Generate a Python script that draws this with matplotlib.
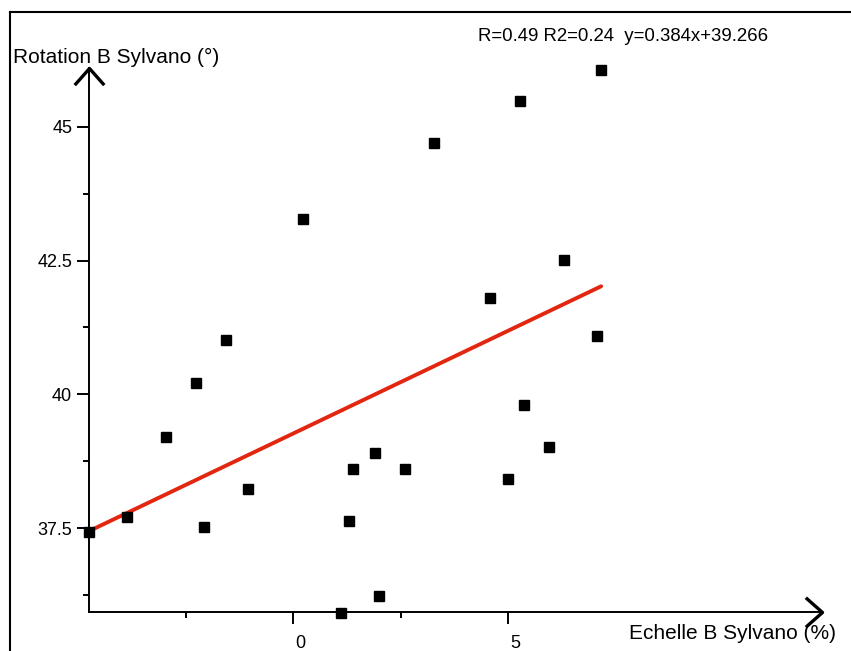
import numpy as np
import matplotlib
matplotlib.use("Agg")
import matplotlib.pyplot as plt
from matplotlib.path import Path
from matplotlib.lines import Line2D
from matplotlib.transforms import ScaledTranslation

plt.rcParams["font.family"] = ["Liberation Sans", "DejaVu Sans"]

# data
echelle = [-4.75, -3.87, -2.96, -2.26, -2.08, -1.57, -1.05, 0.24, 1.11, 1.29, 1.39, 1.90,
           1.99, 2.60, 3.29, 4.58, 5.00, 5.27, 5.37, 5.96, 6.30, 7.07, 7.17]
rotation = [37.42, 37.71, 39.20, 40.21, 37.52, 41.02, 38.23, 43.28, 35.92, 37.64, 38.60, 38.90,
            36.23, 38.60, 44.70, 41.80, 38.42, 45.49, 39.80, 39.01, 42.51, 41.09, 46.07]
slope, intercept = 0.384, 39.266
stats_text = "R=0.49 R2=0.24  y=0.384x+39.266"

x_major = [0, 5]
x_minor = [-2.5, 2.5]
y_major = [37.5, 40, 42.5, 45]
y_minor = [36.25, 38.75, 41.25, 43.75]

W, H = 851, 651
fig = plt.figure(figsize=(W / 100, H / 100), dpi=100)
ax = fig.add_axes([89 / W, 1 - 612 / H, (822 - 89) / W, (612 - 68) / H])

ax.set_xlim(min(echelle), 12.31)
ax.set_ylim(35.93, 46.10)

# scatter + fit line
ax.plot(echelle, rotation, ls="none", marker="s", ms=6.5, color="black", clip_on=False, zorder=3)
xf = np.array([min(echelle), max(echelle)])
ax.plot(xf, slope * xf + intercept, color="#e3260f", lw=2.8, solid_capstyle="round", zorder=2)

# spines
for s in ["top", "right"]:
    ax.spines[s].set_visible(False)
for s in ["left", "bottom"]:
    ax.spines[s].set_linewidth(1.4)

# open chevron arrows at the axis ends
chev_right = Path([(-1.13, 1), (0, 0), (-1.13, -1)], [Path.MOVETO, Path.LINETO, Path.LINETO])
chev_up = Path([(1, -1.13), (0, 0), (-1, -1.13)], [Path.MOVETO, Path.LINETO, Path.LINETO])
ax.plot([1], [0], marker=chev_right, ms=24, mfc="none", mec="black", mew=2.4,
        transform=ax.transAxes, clip_on=False)
ax.plot([0], [1], marker=chev_up, ms=24, mfc="none", mec="black", mew=2.4,
        transform=ax.transAxes, clip_on=False)

ax.set_xticks(x_major)
ax.set_xticks(x_minor, minor=True)
ax.set_yticks(y_major)
ax.set_yticks(y_minor, minor=True)
ax.set_xticklabels([str(v) for v in x_major])
ax.set_yticklabels(["37.5", "40", "42.5", "45"])
ax.tick_params(which="major", length=8.6, width=1.4, labelsize=13, color="black")
ax.tick_params(which="minor", length=4.3, width=1.4, color="black")
ax.tick_params(axis="x", which="major", pad=8)
ax.tick_params(axis="y", which="major", pad=3.5)
for lab in ax.get_xticklabels():
    lab.set_transform(lab.get_transform() + ScaledTranslation(7 / 100, 0, fig.dpi_scale_trans))

# axis titles and stats
fig.text(13 / W, 1 - 63 / H, "Rotation B Sylvano (°)", fontsize=15, va="baseline", ha="left")
fig.text(836 / W, 1 - 639 / H, "Echelle B Sylvano (%)", fontsize=15, va="baseline", ha="right")
fig.text(478 / W, 1 - 41 / H, stats_text, fontsize=13.4, va="baseline", ha="left")

# partial frame (top and left)
fig.add_artist(Line2D([10 / W, 1], [1 - 12 / H, 1 - 12 / H], color="black", lw=1.5,
                      transform=fig.transFigure))
fig.add_artist(Line2D([10 / W, 10 / W], [0, 1 - 12 / H], color="black", lw=1.5,
                      transform=fig.transFigure))

fig.savefig("out.png", dpi=100)
